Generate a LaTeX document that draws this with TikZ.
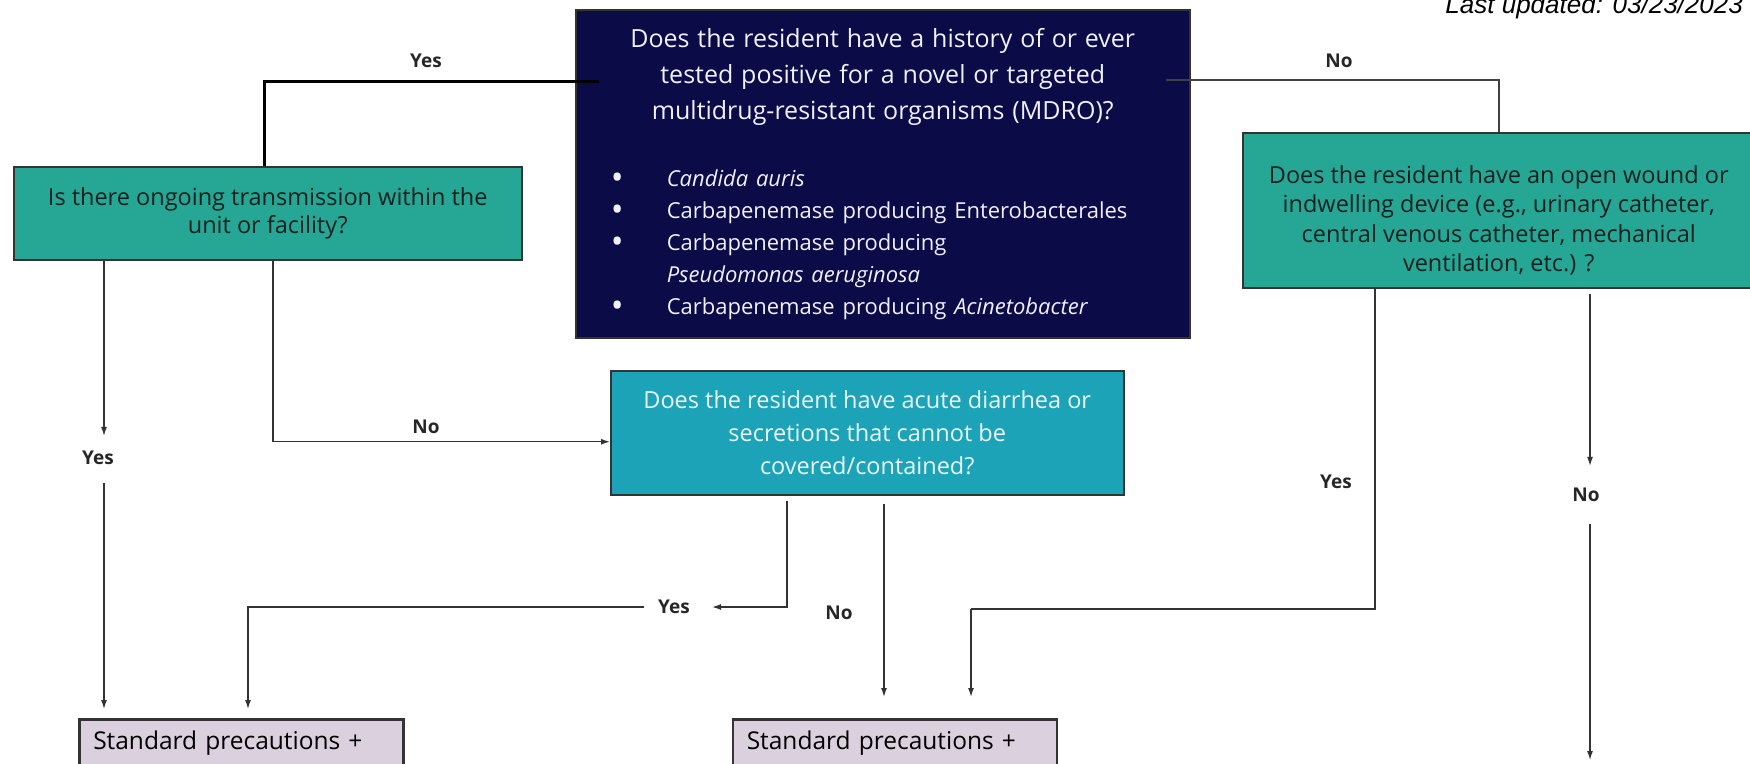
\documentclass[tikz,border=0pt]{standalone}
\usepackage{fontspec}
\setmainfont{Open Sans}
\newfontfamily\stampfont{Liberation Sans}
\usepackage{xcolor}
\usetikzlibrary{positioning, arrows.meta}

\definecolor{mdronavy}{HTML}{0B0B47}
\definecolor{qteal}{HTML}{26A796}
\definecolor{qcyan}{HTML}{1CA3B8}
\definecolor{outlilac}{HTML}{DAD0DE}
\definecolor{edgegray}{HTML}{333333}
\definecolor{darktext}{HTML}{10201E}

\newcommand{\mdrobullet}{\makebox[91pt][l]{\hspace{35pt}\raisebox{-3pt}{\fontsize{34}{32}\selectfont\textbullet}}}

\tikzset{
	qbox/.style={draw=edgegray, line width=1.5pt, align=center, inner sep=0pt, anchor=north west, font=\fontsize{23.5}{33}\selectfont},
	outbox/.style={draw=black!80, line width=2.5pt, fill=outlilac, anchor=north west, align=left, text width=296pt, inner xsep=14pt, inner ysep=12pt, text depth=60pt, font=\fontsize{24.5}{33}\selectfont},
	answer/.style={font=\fontsize{19}{22}\selectfont\bfseries, text=black!85, inner sep=2pt},
	topline/.style={line width=3pt, draw=black},
	flow/.style={line width=1.3pt, draw=edgegray, -{Latex[length=9pt,width=6pt]}}
}

\begin{document}
\begin{tikzpicture}[x=1pt, y=-1pt]

	\useasboundingbox (0,0) rectangle (1750,763);
	\clip (0,0) rectangle (1750,763);

	% nodes - questions %
	\node[qbox, fill=mdronavy, text=white!94!blue, align=left, text width=614pt, minimum height=328pt] (mdro) at (575,9) {%
		{\centering\fontsize{25}{36}\selectfont Does the resident have a history of or ever\\tested positive for a novel or targeted\\multidrug-resistant organisms (MDRO)?\par}
		\vspace{35pt}
		{\fontsize{22}{32}\selectfont\raggedright
		\mdrobullet\textit{Candida auris}\par
		\mdrobullet Carbapenemase producing Enterobacterales\par
		\mdrobullet Carbapenemase producing\par
		\hspace*{91pt}\textit{Pseudomonas aeruginosa}\par
		\mdrobullet Carbapenemase producing \textit{Acinetobacter}\par}};
	\node[qbox, fill=qteal, text=darktext, minimum width=508pt, minimum height=93pt, font=\fontsize{23.5}{28}\selectfont] (trans) at (13,166) {Is there ongoing transmission within the\\unit or facility?};
	\node[qbox, fill=qteal, text=darktext, minimum width=512pt, minimum height=155pt, font=\fontsize{23.5}{29.5}\selectfont] (wound) at (1242,132) {\rule{0pt}{38pt}Does the resident have an open wound or\\indwelling device (e.g., urinary catheter,\\central venous catheter, mechanical\\ventilation, etc.) ?};
	\node[qbox, fill=qcyan, text=white!92!cyan, minimum width=513pt, minimum height=124pt] (diar) at (610,370) {Does the resident have acute diarrhea or\\secretions that cannot be\\covered/contained?};

	% nodes - outcomes %
	\node[outbox] (stdA) at (78,718) {Standard precautions +};
	\node[outbox, right=327pt of stdA.north east, anchor=north west] (stdB) {Standard precautions +};

	% nodes - answers %
	\node[answer] (yesTop) at (426,61) {Yes};
	\node[answer] (noTop) at (1339,61) {No};
	\node[answer] (yesT) at (98,458) {Yes};
	\node[answer] (noT) at (426,427) {No};
	\node[answer] (yesD) at (674,607) {Yes};
	\node[answer] (noD) at (839,613) {No};
	\node[answer] (yesW) at (1336,482) {Yes};
	\node[answer] (noW) at (1586,495) {No};

	\node[font=\stampfont\itshape\fontsize{26}{30}\selectfont, anchor=base east, inner sep=0pt] (stamp) at (1743,13) {Last updated: 03/23/2023};

	% edges %
	\draw[topline] ([shift={(24,72)}]mdro.north west) -| ([xshift=-3pt]trans.north);
	\draw[topline, line width=2.5pt, draw=black!75] ([shift={(-25,71)}]mdro.north east) -| (wound.north);

	\coordinate (tYes) at ([xshift=91pt]trans.south west);
	\coordinate (tNo) at ([xshift=260pt]trans.south west);
	\coordinate (dYes) at ([xshift=177pt]diar.south west);
	\coordinate (dNo) at ([xshift=274pt]diar.south west);
	\coordinate (wYes) at ([xshift=133pt]wound.south west);
	\coordinate (wNo) at ([xshift=348pt]wound.south west);
	\coordinate (wYesBend) at (971,609);
	\coordinate (wNoEnd) at (1590,760);

	\draw[flow] (tYes) -- (tYes |- yesT.north) [shorten >=13pt];
	\draw[flow, shorten <=16pt, shorten >=9pt] (tYes |- yesT.south) -- (tYes |- stdA.north);
	\draw[flow] (tNo) |- ([yshift=-9pt]diar.west);

	\draw[flow, shorten <=5pt, shorten >=20pt] (dYes) |- (yesD.east);
	\draw[flow, shorten <=12pt, shorten >=9pt] (yesD.west) -| ([xshift=170pt]stdA.north west);
	\draw[flow, shorten <=8pt, shorten >=21pt] (dNo) -- (dNo |- stdB.north);

	\draw[flow, -] (wYes) |- (wYesBend);
	\draw[flow, shorten >=21pt] (wYesBend) -- (wYesBend |- stdB.north);
	\draw[flow, shorten <=5pt, shorten >=20pt] (wNo) -- (wNo |- noW.north);
	\draw[flow, shorten <=20pt] (wNo |- noW.south) -- (wNoEnd);

\end{tikzpicture}
\end{document}
